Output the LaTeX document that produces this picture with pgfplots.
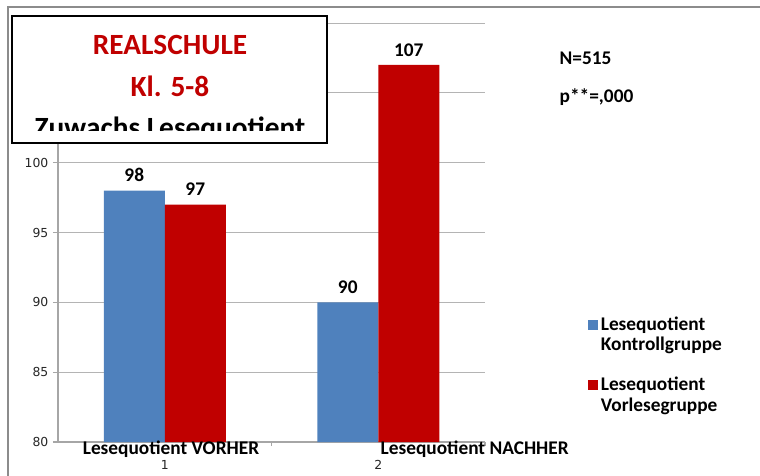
\documentclass[border=0pt]{standalone}
\usepackage{fontspec}
\setmainfont{Carlito}
\newfontfamily\dejavu{DejaVu Sans}
\usepackage{pgfplots}
\pgfplotsset{compat=1.18}
\definecolor{xblue}{HTML}{4F81BD}
\definecolor{xred}{HTML}{C00000}
\definecolor{gridgray}{HTML}{B4B4B4}
\definecolor{axisgray}{HTML}{A6A6A6}
\definecolor{framegray}{HTML}{8C8C8C}
\begin{document}
\begin{tikzpicture}
\begin{scope}[x=0.75pt,y=0.75pt]
\draw[framegray, line width=1.2pt] (8,-20) -- (8,468) -- (780,468);
\end{scope}
\begin{axis}[
  at={(43.5pt,24.75pt)}, anchor=south west, scale only axis,
  width=320.25pt, height=314.25pt,
  xmin=0.5, xmax=2.5, ymin=80, ymax=110,
  ybar=0pt, bar width=45.75pt,
  axis x line*=bottom, axis y line*=left,
  axis line style={draw=axisgray, line width=1pt},
  xtick={1,2}, xticklabels={1,2},
  ytick={80,85,...,110},
  tick align=outside,
  major tick length=3.75pt,
  tick style={draw=axisgray, line width=0.8pt},
  major x tick style={draw=none},
  extra x ticks={1.5,2.5}, extra x tick labels={},
  extra x tick style={major tick length=3pt, major x tick style={draw=axisgray}},
  ymajorgrids, grid style={draw=gridgray, line width=0.75pt},
  /pgf/number format/assume math mode=true,
  yticklabel style={font=\dejavu\fontsize{9.3}{10}\selectfont, text=black!85},
  xticklabel style={font=\dejavu\fontsize{9.3}{10}\selectfont, text=black!85, yshift=-6.5pt},
  nodes near coords,
  every node near coord/.append style={font=\bfseries\fontsize{14.5}{16}\selectfont, text=black, yshift=3pt},
  legend style={at={(rel axis cs:1.241,0.306)}, anchor=north west, draw=none, fill=none,
    font=\bfseries\fontsize{14.5}{15.5}\selectfont, cells={align=left, anchor=west},
    row sep=14pt, inner sep=0pt},
  legend image code/.code={\fill[#1] (0pt,4pt) rectangle (7.5pt,11pt);},
]
\addplot[fill=xblue, draw=none] coordinates {(1,98) (2,90)};
\addplot[fill=xred, draw=none] coordinates {(1,97) (2,107)};
\legend{Lesequotient\\Kontrollgruppe, Lesequotient\\Vorlesegruppe}
\end{axis}
\begin{scope}[x=0.75pt,y=0.75pt]
% category labels
\node[font=\bfseries\fontsize{14.5}{16}\selectfont, anchor=base] at (171,475-454) {Lesequotient VORHER};
\node[font=\bfseries\fontsize{14.5}{16}\selectfont, anchor=base west] at (376,475-454) {Lesequotient NACHHER};
% annotations
\node[font=\bfseries\fontsize{14.5}{16}\selectfont, anchor=west] at (555,475-58) {N=515};
\node[font=\bfseries\fontsize{14.5}{16}\selectfont, anchor=west] at (555,475-97) {p**=,000};
% title box
\fill[white] (12,459) rectangle (327,332);
\begin{scope}
\clip (13,458) rectangle (326,344);
\node[font=\bfseries\fontsize{22}{26}\selectfont, text=xred, anchor=base] at (170,475-55) {REALSCHULE};
\node[font=\bfseries\fontsize{22}{26}\selectfont, text=xred, anchor=base] at (170,475-97) {Kl. 5-8};
\node[font=\bfseries\fontsize{22}{26}\selectfont, text=black, anchor=base] at (170,475-138) {Zuwachs Lesequotient};
\end{scope}
\draw[black, line width=1.5pt] (12,459) rectangle (327,332);
\pgfresetboundingbox
\useasboundingbox (0,0) rectangle (760,475);
\end{scope}
\end{tikzpicture}
\end{document}
